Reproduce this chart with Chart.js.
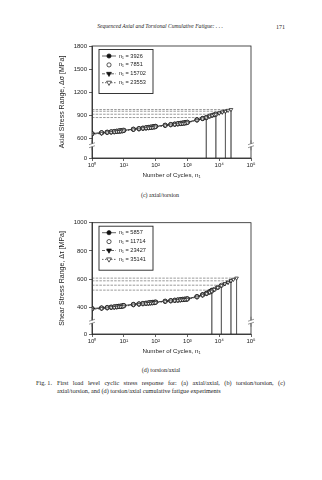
<!DOCTYPE html>
<html>
<head>
<meta charset="utf-8">
<script src="https://cdn.jsdelivr.net/npm/chart.js@4.4.1/dist/chart.umd.min.js"></script>
<style>
    body { margin: 0; width: 322px; height: 480px; background: #fff; position: relative; overflow: hidden;
           font-family: "Liberation Serif", "Times New Roman", serif; color: #222; }
    .t { position: absolute; white-space: nowrap; line-height: 1; }
    canvas { position: absolute; left: 0; }
</style>
</head>
<body>
<div class="t" style="left:90px;top:23.5px;width:140px;text-align:center;font-style:italic;font-size:5.6px">Sequenced Axial and Torsional Cumulative Fatigue: . . .</div>
<div class="t" style="left:276px;top:23.5px;font-size:6px">171</div>

<canvas id="chartC" width="322" height="150" style="top:36px"></canvas>
<div class="t" style="left:110px;top:192px;width:100px;text-align:center;font-size:6px">(c) axial/torsion</div>

<canvas id="chartD" width="322" height="150" style="top:212px"></canvas>
<div class="t" style="left:111px;top:367px;width:100px;text-align:center;font-size:6px">(d) torsion/axial</div>

<div class="t" style="left:36px;top:380px;font-size:6.2px">Fig. 1.</div>
<div class="t" style="left:57px;top:380px;width:228px;font-size:6.2px;text-align:justify;text-align-last:justify">First load level cyclic stress response for: (a) axial/axial, (b) torsion/torsion, (c)</div>
<div class="t" style="left:57px;top:388.3px;font-size:6.2px">axial/torsion, and (d) torsion/axial cumulative fatigue experiments</div>

<script>
// --- axes ---
const X_TICKS = [1, 10, 100, 1000, 10000, 100000];
const X_TICK_LABELS = ['10⁰', '10¹', '10²', '10³', '10⁴', '10⁵'];

// (c) axial/torsion — broken y axis, lowest tick stands for 0
const Y_TICKS_C = [344, 600, 900, 1200, 1500, 1800];
const Y_TICK_LABELS_C = ['0', '600', '900', '1200', '1500', '1800'];
const BREAK_C = 510;

// (d) torsion/axial
const Y_TICKS_D = [211, 400, 600, 800, 1000];
const Y_TICK_LABELS_D = ['0', '400', '600', '800', '1000'];
const BREAK_D = 298;

// --- data (c) ---
const CYCLES_C = [1, 2, 3, 4, 5, 6, 7, 8, 9, 10, 20, 30, 40, 50, 60, 70, 80, 90, 100,
    200, 300, 400, 500, 600, 700, 800, 900, 1000, 2000, 3000, 3900, 5000, 6000, 7000, 7800,
    10000, 12500, 15700, 19000, 23500];
const LIFE_C = [3926, 7851, 15702, 23553];
const SAT_C = [870, 913, 952, 974];
const AX_TOR_1 = [662, 673, 680, 685, 689, 693, 696, 699, 702, 705, 719, 727, 733, 738, 742, 746, 749, 752, 756,
    771, 780, 786, 791, 795, 799, 802, 805, 809, 841, 859, 870];
const AX_TOR_2 = [657, 670, 677, 682, 686, 690, 693, 696, 699, 702, 716, 724, 730, 735, 739, 743, 746, 749, 753,
    768, 777, 783, 788, 792, 796, 799, 802, 806, 838, 856, 869, 889, 899, 907, 913];
const AX_TOR_3 = [660, 671, 678, 683, 687, 691, 694, 697, 700, 703, 717, 725, 731, 736, 740, 744, 747, 750, 754,
    769, 778, 784, 789, 793, 797, 800, 803, 807, 839, 857, 869, 890, 900, 908, 914, 929, 941, 952];
const AX_TOR_4 = [652, 664, 671, 676, 680, 684, 687, 690, 693, 696, 710, 718, 724, 729, 733, 737, 740, 743, 747,
    763, 772, 778, 783, 787, 791, 794, 797, 801, 834, 853, 866, 887, 898, 906, 912, 927, 940, 951, 963, 974];

// --- data (d) ---
const CYCLES_D = [1, 2, 3, 4, 5, 6, 7, 8, 9, 10, 20, 30, 40, 50, 60, 70, 80, 90, 100,
    200, 300, 400, 500, 600, 700, 800, 900, 1000, 2000, 3000, 4000, 5000, 5800, 7000, 9000,
    11700, 15000, 19000, 23400, 28000, 35100];
const LIFE_D = [5857, 11714, 23427, 35141];
const SAT_D = [522, 557, 588, 607];
const TOR_AX_1 = [392, 396, 399, 402, 404, 406, 408, 409, 411, 413, 421, 425, 428, 430, 432, 434, 435, 436, 438,
    444, 448, 451, 453, 455, 457, 458, 459, 461, 477, 490, 501, 511, 521];
const TOR_AX_2 = [389, 394, 397, 400, 402, 404, 406, 407, 409, 411, 419, 423, 426, 428, 430, 432, 433, 434, 436,
    442, 446, 449, 451, 453, 455, 456, 457, 459, 474, 487, 498, 508, 515, 527, 541, 556];
const TOR_AX_3 = [390, 395, 398, 401, 403, 405, 407, 408, 410, 412, 420, 424, 427, 429, 431, 433, 434, 435, 437,
    443, 447, 450, 452, 454, 456, 457, 458, 460, 475, 488, 499, 509, 516, 528, 542, 555, 567, 578, 588];
const TOR_AX_4 = [386, 391, 394, 397, 399, 401, 403, 404, 406, 408, 416, 420, 423, 425, 427, 429, 430, 431, 433,
    440, 444, 447, 449, 451, 453, 454, 455, 457, 472, 485, 497, 507, 514, 526, 540, 554, 566, 577, 588, 598, 607];

// --- looks ---
const FONT = '"Liberation Sans", Arial, sans-serif';
const INK = '#222';
// order: lower is drawn later (on top) — open symbols stay visible like in the scan
const SERIES_STYLE = [
    { pointStyle: 'circle',   rotation: 0,   fill: '#111', showLine: true,  dash: [],         order: 4 },
    { pointStyle: 'circle',   rotation: 0,   fill: '#fff', showLine: false, dash: [],         order: 2 },
    { pointStyle: 'triangle', rotation: 180, fill: '#111', showLine: true,  dash: [3, 1.5],   order: 3 },
    { pointStyle: 'triangle', rotation: 180, fill: '#fff', showLine: true,  dash: [1.5, 1.5], order: 1 },
];

function drawMarker(ctx, style, x, y, r) {
    ctx.beginPath();
    if (style.pointStyle === 'circle') {
        ctx.arc(x, y, r, 0, Math.PI * 2);
    } else {
        ctx.moveTo(x - r * 1.15, y - r * 0.7);
        ctx.lineTo(x + r * 1.15, y - r * 0.7);
        ctx.lineTo(x, y + r * 1.3);
        ctx.closePath();
    }
    ctx.fillStyle = style.fill;
    ctx.fill();
    ctx.lineWidth = 0.7;
    ctx.strokeStyle = '#111';
    ctx.stroke();
}

// frame, axis breaks and boxed legend inside the plot
const paperPlugin = cfg => ({
    id: 'paper',
    afterDraw(chart) {
        const { ctx, chartArea: a, scales: { y } } = chart;
        ctx.save();
        ctx.strokeStyle = INK;
        ctx.lineWidth = 0.8;
        ctx.strokeRect(a.left, a.top, a.right - a.left, a.bottom - a.top);

        const by = y.getPixelForValue(cfg.breakAt);
        [a.left, a.right].forEach(x => {
            ctx.fillStyle = '#fff';
            ctx.fillRect(x - 1.5, by - 1.5, 3, 3);
            ctx.strokeStyle = '#555';
            ctx.lineWidth = 0.6;
            ctx.beginPath();
            ctx.moveTo(x - 3, by - 0.5); ctx.lineTo(x + 3, by - 2.5);
            ctx.moveTo(x - 3, by + 2.5); ctx.lineTo(x + 3, by + 0.5);
            ctx.moveTo(x, by - 5); ctx.lineTo(x, by - 1.5);
            ctx.moveTo(x, by + 1.5); ctx.lineTo(x, by + 5);
            ctx.stroke();
        });

        const lx = a.left + 7, ly = a.top + 3.5, lw = 54, lh = 44;
        ctx.fillStyle = '#fff';
        ctx.fillRect(lx, ly, lw, lh);
        ctx.strokeStyle = INK;
        ctx.lineWidth = 0.9;
        ctx.strokeRect(lx, ly, lw, lh);
        ctx.font = '5.6px ' + FONT;
        ctx.textBaseline = 'middle';
        chart.data.datasets.filter(d => d.legendLabel).forEach((d, i) => {
            const s = SERIES_STYLE[d.styleIdx];
            const ry = ly + 6.5 + i * 8.9;
            if (s.showLine) {
                ctx.setLineDash(s.dash);
                ctx.strokeStyle = INK;
                ctx.lineWidth = 0.7;
                ctx.beginPath();
                ctx.moveTo(lx + 3, ry);
                ctx.lineTo(lx + 17, ry);
                ctx.stroke();
                ctx.setLineDash([]);
            }
            drawMarker(ctx, s, lx + 10, ry, 2.1);
            ctx.fillStyle = INK;
            ctx.fillText(d.legendLabel, lx + 20, ry);
        });
        ctx.restore();
    },
});

function buildChart(id, cfg) {
    const floor = cfg.yTicks[0];
    const datasets = cfg.stress.map((vals, i) => {
        const s = SERIES_STYLE[i];
        return {
            legendLabel: `n₁ = ${cfg.life[i]}`,
            styleIdx: i,
            data: vals.map((v, k) => ({ x: cfg.cycles[k], y: v })),
            showLine: s.showLine,
            borderColor: INK,
            borderWidth: 0.7,
            borderDash: s.dash,
            pointStyle: s.pointStyle,
            pointRotation: s.rotation,
            pointRadius: 2.1,
            pointBackgroundColor: s.fill,
            pointBorderColor: '#111',
            pointBorderWidth: 0.7,
            order: s.order,
        };
    });
    // stabilised level (dashed) out to n1, then drop to the axis at n1
    cfg.life.forEach((n, i) => datasets.push({
        data: [{ x: X_TICKS[0], y: cfg.sat[i] }, { x: n, y: cfg.sat[i] }, { x: n, y: floor }],
        showLine: true,
        borderColor: '#555',
        borderWidth: 0.6,
        pointRadius: 0,
        segment: { borderDash: ctx => ctx.p0DataIndex === 0 ? [2.5, 1.2] : [] },
        order: 5,
    }));

    new Chart(document.getElementById(id), {
        type: 'scatter',
        data: { datasets },
        options: {
            responsive: false,
            animation: false,
            events: [],
            layout: { padding: { left: 0, right: 71, top: cfg.top, bottom: 0 } },
            plugins: { legend: { display: false }, tooltip: { enabled: false } },
            scales: {
                x: {
                    type: 'logarithmic',
                    min: X_TICKS[0],
                    max: X_TICKS[X_TICKS.length - 1],
                    afterBuildTicks: s => { s.ticks = X_TICKS.map(v => ({ value: v })); },
                    afterFit: s => { s.height = 28; },
                    ticks: {
                        callback: (v, i) => X_TICK_LABELS[i],
                        font: { family: FONT, size: 6 }, color: INK,
                        padding: 1, maxRotation: 0, autoSkip: false,
                    },
                    grid: { drawOnChartArea: false, tickLength: 3, color: INK, lineWidth: 0.7 },
                    border: { color: INK, width: 0.8 },
                    title: {
                        display: true, text: 'Number of Cycles, n₁', color: INK,
                        font: { family: FONT, size: 6.2 }, padding: { top: 0, bottom: 7.3 },
                    },
                },
                y: {
                    min: cfg.yTicks[0],
                    max: cfg.yTicks[cfg.yTicks.length - 1],
                    afterBuildTicks: s => { s.ticks = cfg.yTicks.map(v => ({ value: v })); },
                    afterFit: s => { s.width = 92; },
                    ticks: {
                        callback: (v, i) => cfg.yLabels[i],
                        font: { family: FONT, size: 6 }, color: INK, padding: 2,
                    },
                    grid: { drawOnChartArea: false, tickLength: 3, color: INK, lineWidth: 0.7 },
                    border: { color: INK, width: 0.8 },
                    title: {
                        display: true, text: cfg.yTitle, color: INK,
                        font: { family: FONT, size: 7 }, padding: { top: 57.8, bottom: 0 },
                    },
                },
            },
        },
        plugins: [paperPlugin(cfg)],
    });
}

buildChart('chartC', {
    top: 10,
    cycles: CYCLES_C,
    stress: [AX_TOR_1, AX_TOR_2, AX_TOR_3, AX_TOR_4],
    life: LIFE_C,
    sat: SAT_C,
    yTicks: Y_TICKS_C,
    yLabels: Y_TICK_LABELS_C,
    breakAt: BREAK_C,
    yTitle: 'Axial Stress Range, Δσ [MPa]',
});

buildChart('chartD', {
    top: 10.7,
    cycles: CYCLES_D,
    stress: [TOR_AX_1, TOR_AX_2, TOR_AX_3, TOR_AX_4],
    life: LIFE_D,
    sat: SAT_D,
    yTicks: Y_TICKS_D,
    yLabels: Y_TICK_LABELS_D,
    breakAt: BREAK_D,
    yTitle: 'Shear Stress Range, Δτ [MPa]',
});
</script>
</body>
</html>
